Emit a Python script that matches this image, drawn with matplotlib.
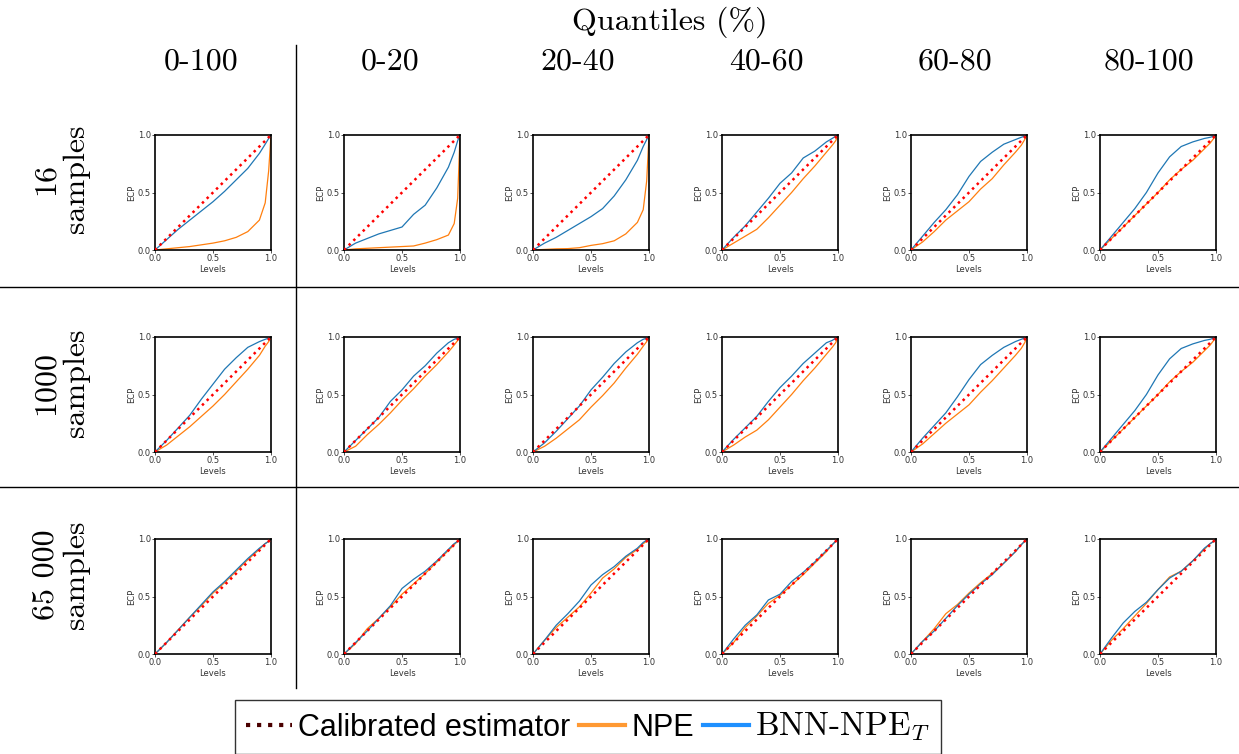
import matplotlib
matplotlib.use("Agg")
import matplotlib.pyplot as plt
from matplotlib.lines import Line2D

plt.rcParams['mathtext.fontset'] = 'cm'

# data
levels = [0, .1, .2, .3, .4, .5, .6, .7, .8, .9, .95, .98, 1]
quantiles = ["0-100", "0-20", "20-40", "40-60", "60-80", "80-100"]
row_labels = ["16\nsamples", "1000\nsamples", "65 000\nsamples"]

npe_16 = [
    [0, .01, .02, .03, .045, .06, .08, .11, .16, .26, .41, .69, 1],
    [0, .01, .015, .02, .025, .03, .035, .06, .09, .13, .23, .45, 1],
    [0, .005, .01, .012, .02, .04, .055, .08, .14, .24, .35, .6, 1],
    [0, .06, .12, .18, .28, .39, .50, .62, .73, .85, .91, .95, 1],
    [0, .07, .16, .26, .34, .42, .53, .62, .74, .85, .91, .96, 1],
    [0, .10, .20, .30, .40, .50, .61, .70, .78, .88, .93, .97, 1],
]
bnn_16 = [
    [0, .09, .18, .26, .34, .42, .51, .61, .71, .84, .92, .97, 1],
    [0, .06, .10, .14, .17, .20, .31, .39, .54, .72, .85, .95, 1],
    [0, .06, .11, .17, .23, .29, .36, .47, .61, .78, .90, .96, 1],
    [0, .11, .21, .33, .45, .58, .67, .80, .86, .94, .97, .99, 1],
    [0, .12, .24, .35, .48, .64, .77, .85, .92, .96, .98, .99, 1],
    [0, .12, .24, .36, .50, .67, .81, .90, .94, .97, .98, .99, 1],
]
npe_1000 = [
    [0, .06, .14, .22, .31, .40, .50, .61, .72, .84, .92, .96, 1],
    [0, .05, .15, .24, .34, .45, .55, .66, .76, .87, .93, .97, 1],
    [0, .05, .12, .20, .28, .39, .49, .60, .73, .85, .92, .96, 1],
    [0, .06, .13, .19, .28, .39, .50, .62, .73, .85, .91, .95, 1],
    [0, .07, .16, .25, .33, .41, .52, .62, .73, .84, .90, .95, 1],
    [0, .10, .20, .30, .40, .50, .61, .70, .78, .88, .93, .97, 1],
]
bnn_1000 = [
    [0, .10, .21, .32, .46, .59, .72, .82, .91, .96, .98, .99, 1],
    [0, .10, .20, .30, .44, .54, .66, .75, .86, .95, .98, .99, 1],
    [0, .08, .18, .29, .40, .54, .65, .77, .87, .95, .98, .99, 1],
    [0, .11, .21, .31, .44, .56, .66, .77, .86, .95, .97, .99, 1],
    [0, .12, .23, .34, .48, .63, .76, .84, .91, .96, .98, .99, 1],
    [0, .12, .24, .36, .50, .67, .81, .90, .94, .97, .98, .99, 1],
]
npe_65000 = [
    [0, .10, .21, .32, .42, .53, .62, .72, .82, .91, .96, .98, 1],
    [0, .09, .22, .31, .41, .52, .61, .70, .80, .90, .95, .98, 1],
    [0, .12, .23, .32, .41, .53, .66, .74, .84, .91, .96, .98, 1],
    [0, .10, .23, .33, .44, .51, .60, .69, .79, .89, .95, .98, 1],
    [0, .11, .22, .35, .43, .53, .62, .70, .79, .89, .95, .98, 1],
    [0, .12, .22, .33, .44, .56, .67, .72, .81, .91, .96, .98, 1],
]
bnn_65000 = [
    [0, .10, .21, .32, .43, .54, .63, .73, .83, .92, .96, .98, 1],
    [0, .10, .20, .31, .42, .57, .65, .72, .81, .91, .96, .98, 1],
    [0, .12, .25, .35, .46, .60, .69, .76, .85, .92, .97, .99, 1],
    [0, .13, .25, .34, .47, .52, .63, .71, .80, .90, .95, .98, 1],
    [0, .11, .20, .31, .42, .52, .61, .69, .79, .89, .95, .98, 1],
    [0, .14, .27, .37, .45, .56, .66, .72, .81, .92, .96, .98, 1],
]
npe_rows = [npe_16, npe_1000, npe_65000]
bnn_rows = [bnn_16, bnn_1000, bnn_65000]

W, H = 1239, 754
fig = plt.figure(figsize=(W / 100, H / 100), dpi=100)

col_left = [155, 344, 533, 722, 911, 1100]
row_top = [135, 337, 539]
aw, ah = 116, 115

for r in range(3):
    for c in range(6):
        ax = fig.add_axes([col_left[c] / W, 1 - (row_top[r] + ah) / H, aw / W, ah / H])
        ax.plot([0, 1], [0, 1], ':', color='red', lw=1.8, zorder=3)
        ax.plot(levels, npe_rows[r][c], color='#ff7f0e', lw=0.9)
        ax.plot(levels, bnn_rows[r][c], color='#1f77b4', lw=0.9)
        ax.set_xlim(0, 1)
        ax.set_ylim(0, 1)
        ax.set_xticks([0, .5, 1])
        ax.set_yticks([0, .5, 1])
        ax.tick_params(labelsize=6, length=2, width=0.6, pad=1, colors='#333333')
        ax.set_xlabel("Levels", fontsize=6, labelpad=1, color='#333333')
        ax.set_ylabel("ECP", fontsize=6, labelpad=1, color='#333333')
        for s in ax.spines.values():
            s.set_linewidth(1.2)

serif = dict(family='cmr10', fontsize=23, ha='center', va='center')
fig.text(670 / W, 1 - 22 / H, "Quantiles (%)", **serif)
header_x = [201, 390, 578, 766, 955, 1149]
for x, q in zip(header_x, quantiles):
    fig.text(x / W, 1 - 62 / H, q, **serif)
row_y = [179, 383, 575]
for y, lab in zip(row_y, row_labels):
    fig.text(61 / W, 1 - y / H, lab, rotation=90, linespacing=1.1, **serif)

# separators
fig.add_artist(Line2D([296 / W, 296 / W], [1 - 45 / H, 1 - 688 / H], color='black', lw=1))
for y in [287, 487]:
    fig.add_artist(Line2D([0, 1], [1 - y / H, 1 - y / H], color='black', lw=1))

handles = [
    Line2D([], [], ls=':', color='#4a0000', lw=3),
    Line2D([], [], color='#ff9933', lw=3),
    Line2D([], [], color='#1e90ff', lw=3),
]
labels = ["Calibrated estimator", "NPE", r"BNN-NPE$_T$"]
leg = fig.legend(handles, labels, loc='upper center', bbox_to_anchor=(588 / W, 1 - 700 / H),
                 ncol=3, frameon=True, fancybox=False, edgecolor='black', borderaxespad=0,
                 handlelength=1.5, handletextpad=0.2, columnspacing=0.3, borderpad=0.35,
                 prop={'family': 'Liberation Sans', 'size': 22})
leg.get_frame().set_linewidth(1)
leg.get_texts()[2].set_fontfamily('cmr10')
leg.get_texts()[2].set_fontsize(24)

fig.savefig("out.png", dpi=100)
